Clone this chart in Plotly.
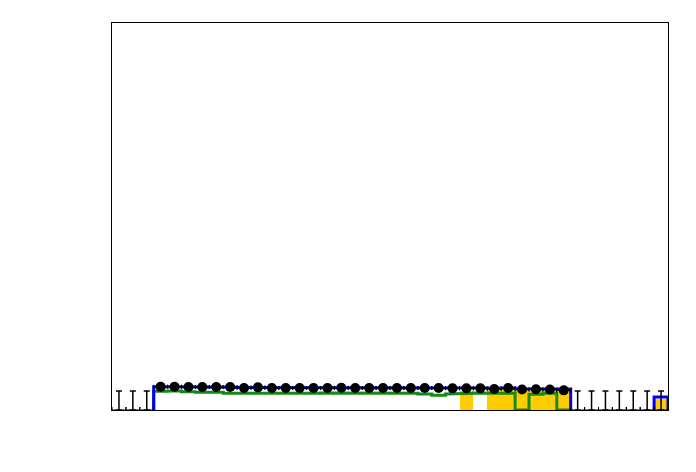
import plotly.graph_objects as go

n_bins = 40
edges = list(range(n_bins + 1))
centers = [i + 0.5 for i in range(n_bins)]

# Data points (bins 3..32)
data_bins = list(range(3, 33))
data_vals = [5.98, 6.01, 5.93, 5.93, 5.93, 5.93, 5.67, 5.85, 5.67, 5.67,
             5.67, 5.67, 5.67, 5.75, 5.67, 5.67, 5.67, 5.67, 5.67, 5.67,
             5.67, 5.59, 5.59, 5.59, 5.41, 5.67, 5.28, 5.34, 5.28, 5.08]
data_err = [0.5] * len(data_vals)

# Empty bins with upper error only
empty_bins = [0, 1, 2, 33, 34, 35, 36, 37, 38, 39]
empty_err = [4.9] * len(empty_bins)

# Blue total histogram
blue_vals = [0, 0, 0,
             6.0, 6.0, 5.95, 5.95, 5.9, 5.9, 5.8, 5.85, 5.8, 5.8,
             5.8, 5.8, 5.8, 5.8, 5.8, 5.8, 5.8, 5.8, 5.8, 5.75,
             5.75, 5.7, 5.7, 5.7, 5.6, 5.7, 5.5, 5.5, 5.5, 5.4,
             0, 0, 0, 0, 0, 0, 3.35]

# Green component histogram
green_vals = [0, 0, 0,
              4.82, 4.92, 4.72, 4.56, 4.56, 4.30, 4.30, 4.30, 4.30, 4.12,
              4.30, 4.30, 4.38, 4.20, 4.20, 4.30, 4.38, 4.38, 4.30, 4.12,
              3.79, 4.12, 4.30, 4.38, 4.30, 4.30, 0, 4.05, 4.30, 0,
              0, 0, 0, 0, 0, 0, 0]

# Yellow component
yellow_vals = [0] * 25 + [5.0, 0, 5.4, 5.4, 5.35, 5.35, 5.35, 5.3] + [0] * 6 + [2.8]


def step_path(vals, start, stop):
    xs, ys = [edges[start]], [0]
    for i in range(start, stop):
        xs += [edges[i], edges[i + 1]]
        ys += [vals[i], vals[i]]
    xs.append(edges[stop])
    ys.append(0)
    return xs, ys


fig = go.Figure()

fig.add_trace(go.Bar(x=centers, y=yellow_vals, width=1.0,
                     marker=dict(color="#ffcc00", line=dict(width=0)),
                     showlegend=False))

gx, gy = step_path(green_vals, 3, 33)
fig.add_trace(go.Scatter(x=gx, y=gy, mode="lines",
                         line=dict(color="#138a13", width=3),
                         showlegend=False))

bx1, by1 = step_path(blue_vals, 3, 33)
bx2, by2 = step_path(blue_vals, 39, 40)
fig.add_trace(go.Scatter(x=bx1 + [None] + bx2, y=by1 + [None] + by2, mode="lines",
                         line=dict(color="#0000ff", width=3),
                         showlegend=False))

fig.add_trace(go.Scatter(
    x=[centers[i] for i in empty_bins], y=[0] * len(empty_bins),
    mode="markers", marker=dict(size=0.1, color="black", opacity=0),
    error_y=dict(type="data", symmetric=False, array=empty_err,
                 arrayminus=[0] * len(empty_bins), color="black",
                 thickness=1.5, width=3),
    error_x=dict(type="constant", value=0.5, color="black", thickness=1, width=3),
    showlegend=False))

fig.add_trace(go.Scatter(
    x=[centers[i] for i in data_bins], y=data_vals,
    mode="markers", marker=dict(size=10, color="black"),
    error_y=dict(type="data", array=data_err, color="black", thickness=1.5, width=2),
    error_x=dict(type="constant", value=0.5, color="black", thickness=1, width=2),
    showlegend=False))

axis_common = dict(showline=True, mirror=True, linecolor="black", linewidth=1,
                   showticklabels=False, ticks="", showgrid=False, zeroline=False)

fig.update_layout(
    width=696, height=472,
    margin=dict(l=112, r=28, t=23, b=62),
    paper_bgcolor="white", plot_bgcolor="white",
    xaxis=dict(range=[0, 40], **axis_common),
    yaxis=dict(range=[0, 100], **axis_common),
    bargap=0,
)

fig.write_html("out.html")
